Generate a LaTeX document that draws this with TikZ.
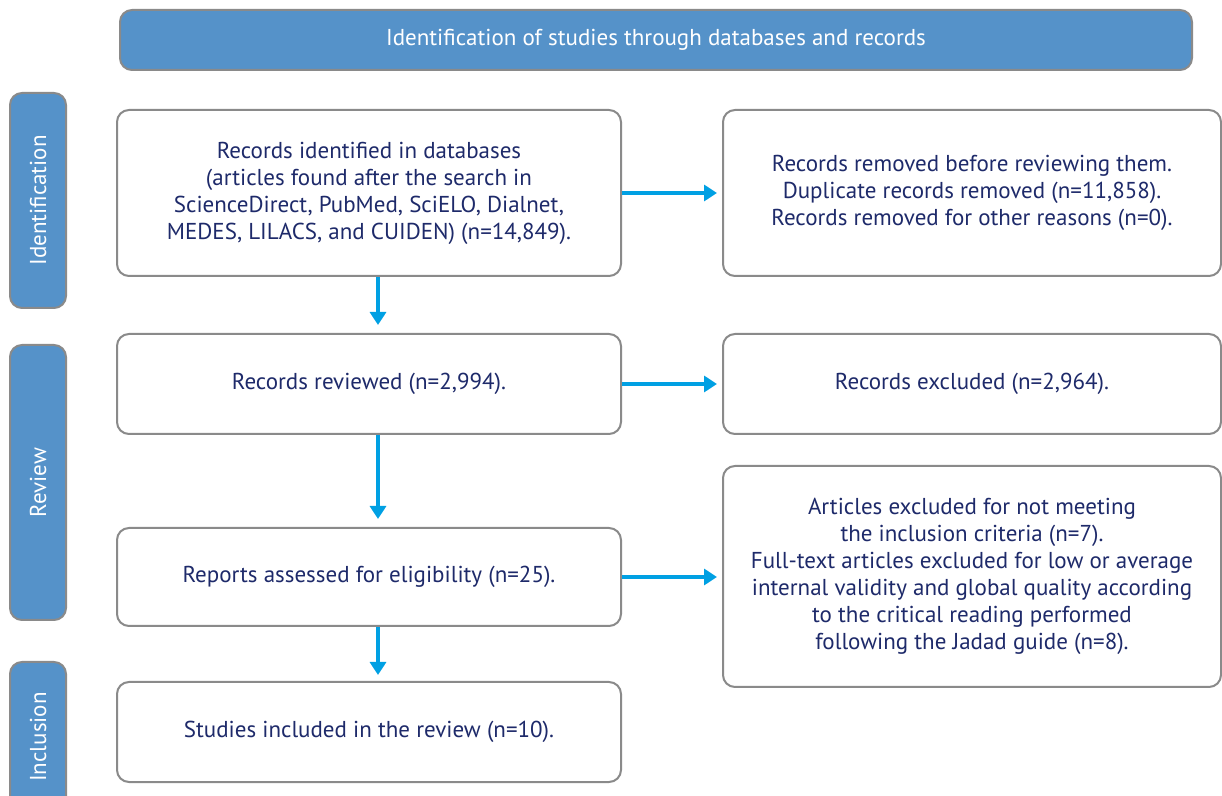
\documentclass[tikz,border=0pt]{standalone}
\usepackage{fontspec}
\setmainfont{PT Sans}
\usepackage{tikz}
\usetikzlibrary{arrows.meta}
\definecolor{bandblue}{HTML}{5592C9}
\definecolor{framegray}{HTML}{8A8A8A}
\definecolor{navytext}{HTML}{1E2A6A}
\definecolor{flowcyan}{HTML}{00A0E3}
\tikzset{
  stagebox/.style={draw=framegray, line width=1pt, rounded corners=6pt, fill=bandblue,
    text=white, font=\fontsize{11.5}{14}\selectfont, inner sep=0pt},
  recbox/.style={draw=framegray, line width=1pt, rounded corners=6pt, fill=white,
    text=navytext, align=center, font=\fontsize{11.5}{13.5}\selectfont, inner sep=0pt,
    minimum width=252pt},
  flow/.style={draw=flowcyan, line width=2pt, -{Triangle[length=6.5pt,width=8pt]}}
}
\begin{document}
\begin{tikzpicture}[x=0.5pt,y=-0.5pt]
\useasboundingbox (0,0) rectangle (1222,796);
\begin{scope}
\clip (0,0) rectangle (1222,796);
% banner and stages
\node[stagebox, minimum width=536pt, minimum height=30pt] (banner) at (656,40)
  {Identification of studies through databases and records};
\node[stagebox, rotate=90, minimum width=107.5pt, minimum height=28pt] (ident) at (38,200.5)
  {Identification};
\node[stagebox, rotate=90, minimum width=137.5pt, minimum height=28pt] (review) at (38,482.5)
  {Review};
\node[stagebox, rotate=90, minimum width=75pt, minimum height=28pt] (incl) at (38,737)
  {Inclusion};
\end{scope}
% left column
\node[recbox, minimum height=83pt] (found) at (369,193)
  {Records identified in databases\\(articles found after the search in\\ScienceDirect, PubMed, SciELO, Dialnet,\\MEDES, LILACS, and CUIDEN) (n=14,849).};
\node[recbox, minimum height=50pt] (screened) at (369,384)
  {Records reviewed (n=2,994).};
\node[recbox, minimum height=49pt] (eligible) at (369,577)
  {Reports assessed for eligibility (n=25).};
\node[recbox, minimum height=50pt] (included) at (369,732)
  {Studies included in the review (n=10).};
% right column
\node[recbox, minimum width=249pt, minimum height=83pt] (removed) at (972,193)
  {Records removed before reviewing them.\\Duplicate records removed (n=11,858).\\Records removed for other reasons (n=0).};
\node[recbox, minimum width=249pt, minimum height=50pt] (excluded) at (972,384)
  {Records excluded (n=2,964).};
\node[recbox, minimum width=249pt, minimum height=110.5pt] (rejected) at (972,576.5)
  {Articles excluded for not meeting\\the inclusion criteria (n=7).\\Full-text articles excluded for low or average\\internal validity and global quality according\\to the critical reading performed\\following the Jadad guide (n=8).};
% arrows
\draw[flow, shorten >=2.5pt] (found.east) -- (removed.west);
\draw[flow, shorten >=2.5pt] (screened.east) -- (excluded.west);
\draw[flow, shorten >=2.5pt] (eligible.east) -- (eligible.east -| rejected.west);
\draw[flow, shorten >=4pt] ([xshift=4.5pt]found.south) -- ([xshift=4.5pt]screened.north);
\draw[flow, shorten >=4pt] ([xshift=4.5pt]screened.south) -- ([xshift=4.5pt]eligible.north);
\draw[flow, shorten >=3pt] ([xshift=4.5pt]eligible.south) -- ([xshift=4.5pt]included.north);
\end{tikzpicture}
\end{document}
